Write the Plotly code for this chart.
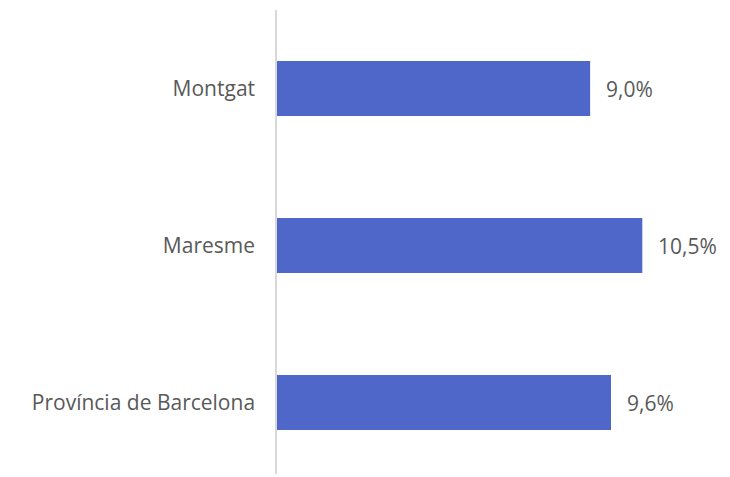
import plotly.graph_objects as go

categories = ["Montgat", "Maresme", "Província de Barcelona"]
values = [9.0, 10.5, 9.6]
labels = ["9,0%", "10,5%", "9,6%"]

bar_color = "#4F67C8"
text_color = "#595959"
font_family = "Open Sans"
fsize = 21

fig = go.Figure()
fig.add_trace(go.Bar(
    y=categories, x=values, orientation="h",
    marker=dict(color=bar_color, line=dict(width=0)),
    width=0.35, hoverinfo="skip",
))
for c, v, t in zip(categories, values, labels):
    fig.add_annotation(x=v, y=c, text=t, showarrow=False, xanchor="left",
                       xshift=14, font=dict(family=font_family, size=fsize, color=text_color))

fig.update_layout(
    width=722, height=469,
    margin=dict(l=269, r=0, t=2, b=3),
    paper_bgcolor="white", plot_bgcolor="white",
    showlegend=False,
    font=dict(family=font_family, size=fsize, color=text_color),
    xaxis=dict(range=[0, 13.02], visible=False, showgrid=False, zeroline=False),
    yaxis=dict(range=[2.455, -0.5], showgrid=False, zeroline=False,
               showline=True, linecolor="#D9D9D9", linewidth=1.5,
               ticks="", ticklabelstandoff=16,
               tickfont=dict(family=font_family, size=fsize, color=text_color)),
)
fig.write_html("out.html")
